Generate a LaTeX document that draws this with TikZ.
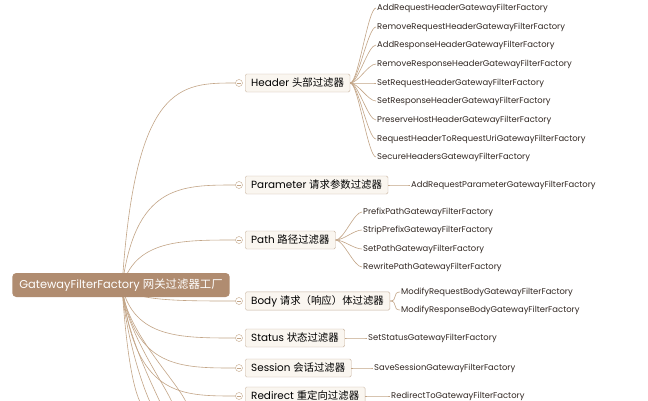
\documentclass[tikz,border=0pt]{standalone}
\usepackage{fontspec}
\setmainfont{Poppins}
\newfontfamily\cjk{Noto Sans CJK SC}
\begin{document}
\begin{tikzpicture}[x=1pt,y=-1pt,
  ln/.style={draw=lnc,line width=0.6pt},
  br/.style={draw=bdc,fill=boxc,rounded corners=1.5pt,inner xsep=6pt,minimum height=18pt,font=\fontsize{10.4}{12}\selectfont,anchor=west},
  lf/.style={font=\fontsize{8.4}{10}\selectfont,anchor=west,inner sep=1pt,text=txc},
  tog/.style={circle,draw=lnc,fill=white,inner sep=0pt,minimum size=7pt}]
\definecolor{lnc}{RGB}{195,165,135}
\definecolor{bdc}{RGB}{200,180,160}
\definecolor{boxc}{RGB}{250,246,240}
\definecolor{rootc}{RGB}{176,140,112}
\definecolor{txc}{RGB}{50,40,35}
\useasboundingbox[fill=white] (0,0) rectangle (648,400);
\coordinate (o) at (122,287);
\def\branch#1#2#3{%
  \node[br] (#1) at (245,#2) {#3};
  \node[tog] (#1t) at (239,#2) {};
  \draw[ln] (o) .. controls (135,#2) and (180,#2) .. (#1t.west);
  \draw[lnc,line width=0.6pt] ([xshift=-2pt]#1t.center) -- ([xshift=2pt]#1t.center);}
\branch{hd}{83}{Header {\cjk 头部过滤器}}
\branch{pa}{185}{Parameter {\cjk 请求参数过滤器}}
\branch{pt}{240}{Path {\cjk 路径过滤器}}
\branch{bd}{301}{Body {\cjk 请求（响应）体过滤器}}
\branch{st}{338}{Status {\cjk 状态过滤器}}
\branch{se}{368}{Session {\cjk 会话过滤器}}
\branch{rd}{396}{Redirect {\cjk 重定向过滤器}}
\foreach \xx in {140,150,160,172,186}
  \draw[ln] (o) .. controls (125,330) and (\xx-10,380) .. (\xx,402);
\node[fill=rootc,rounded corners=4pt,text=white,minimum height=24pt,inner xsep=7pt,font=\fontsize{11.4}{13}\selectfont] (root) at (121,285) {GatewayFilterFactory {\cjk 网关过滤器工厂}};
\def\fan#1#2#3#4{%
  \node[lf] (#1#3) at (#2,#3) {#4};
  \draw[ln] (#1.east) .. controls ([xshift=8pt]#1.east) and ([xshift=-8pt]#1#3.west) .. (#1#3.west);}
\foreach \yy/\tt in {8/AddRequestHeaderGatewayFilterFactory,27/RemoveRequestHeaderGatewayFilterFactory,45/AddResponseHeaderGatewayFilterFactory,64/RemoveResponseHeaderGatewayFilterFactory,83/SetRequestHeaderGatewayFilterFactory,101/SetResponseHeaderGatewayFilterFactory,120/PreserveHostHeaderGatewayFilterFactory,139/RequestHeaderToRequestUriGatewayFilterFactory,157/SecureHeadersGatewayFilterFactory}
  {\fan{hd}{376}{\yy}{\tt}}
\fan{pa}{410}{185}{AddRequestParameterGatewayFilterFactory}
\foreach \yy/\tt in {212/PrefixPathGatewayFilterFactory,230/StripPrefixGatewayFilterFactory,249/SetPathGatewayFilterFactory,267/RewritePathGatewayFilterFactory}
  {\fan{pt}{362}{\yy}{\tt}}
\fan{bd}{400}{292}{ModifyRequestBodyGatewayFilterFactory}
\fan{bd}{400}{310}{ModifyResponseBodyGatewayFilterFactory}
\fan{st}{367}{338}{SetStatusGatewayFilterFactory}
\fan{se}{373}{368}{SaveSessionGatewayFilterFactory}
\fan{rd}{390}{396}{RedirectToGatewayFilterFactory}
\end{tikzpicture}
\end{document}
